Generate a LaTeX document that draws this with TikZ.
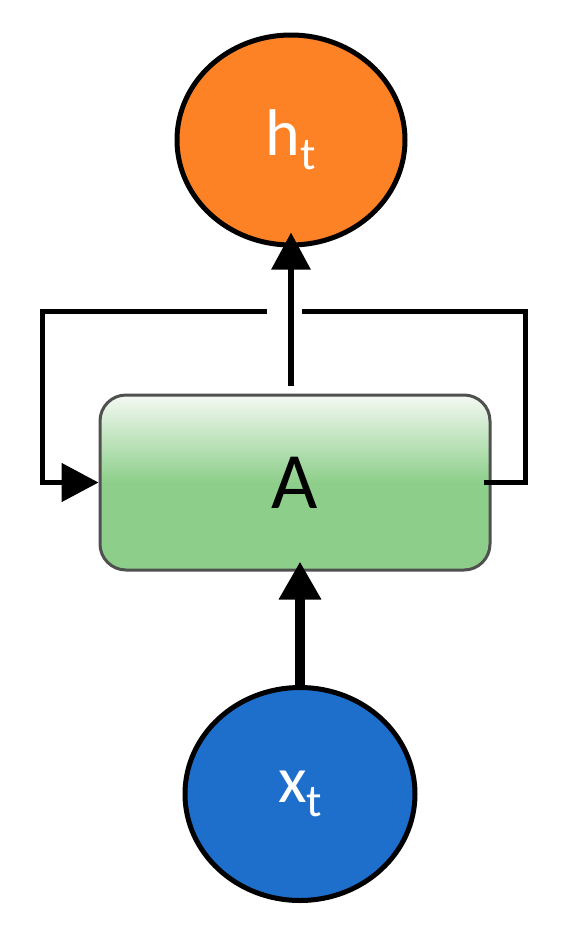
\documentclass[tikz,border=0pt]{standalone}
\usepackage{fontspec}
\setmainfont{Carlito}
\usetikzlibrary{arrows.meta,shapes.geometric,calc}
\definecolor{horange}{HTML}{FD8225}
\definecolor{xblue}{HTML}{1E6FCC}
\definecolor{agreen}{HTML}{8DCF8A}
\definecolor{atop}{HTML}{F4F9F3}
\definecolor{aborder}{HTML}{505050}
\begin{document}
\begin{tikzpicture}[x=1pt,y=-1pt,
  circnode/.style={ellipse,draw=black,line width=5pt,inner sep=0pt,text=white},
  abox/.style={rectangle,rounded corners=26pt,draw=aborder,line width=3pt,
    top color=atop,bottom color=agreen,middle color=agreen,
    minimum width=390pt,minimum height=175pt,inner sep=0pt},
  loopln/.style={line width=5pt},
  tipbig/.style={-{Triangle[length=37pt,width=38pt]}}
]
\useasboundingbox[fill=white] (0,0) rectangle (583,929);
\node[circnode,fill=horange,minimum width=228pt,minimum height=210pt] (h) at (291,140)
  {\fontsize{66}{66}\selectfont h\raisebox{-14pt}{\fontsize{46}{46}\selectfont t}};
\node[abox] (A) at (295,482.5) {\fontsize{80}{80}\selectfont A};
\node[circnode,fill=xblue,minimum width=230pt,minimum height=213pt] (x) at (300,794)
  {\fontsize{66}{66}\selectfont x\raisebox{-14pt}{\fontsize{46}{46}\selectfont t}};
\coordinate (tr) at (525,311);
\coordinate (tl) at (42,311);
\coordinate (gapR) at (302,311);
\coordinate (gapL) at (267,311);
% input arrow
\draw[line width=10pt,-{Triangle[length=38pt,width=40pt]}] (x.north) -- ([yshift=10pt]x.north |- A.south);
% output arrow
\draw[line width=6pt,tipbig] ([yshift=8pt]A.north -| h.south) -- ([yshift=15pt]h.south);
% recurrent loop
\draw[loopln] ([xshift=-8pt]A.east) -| (tr) -- (gapR);
\draw[loopln,tipbig] (gapL) -- (tl) |- (A.west);
\end{tikzpicture}
\end{document}
